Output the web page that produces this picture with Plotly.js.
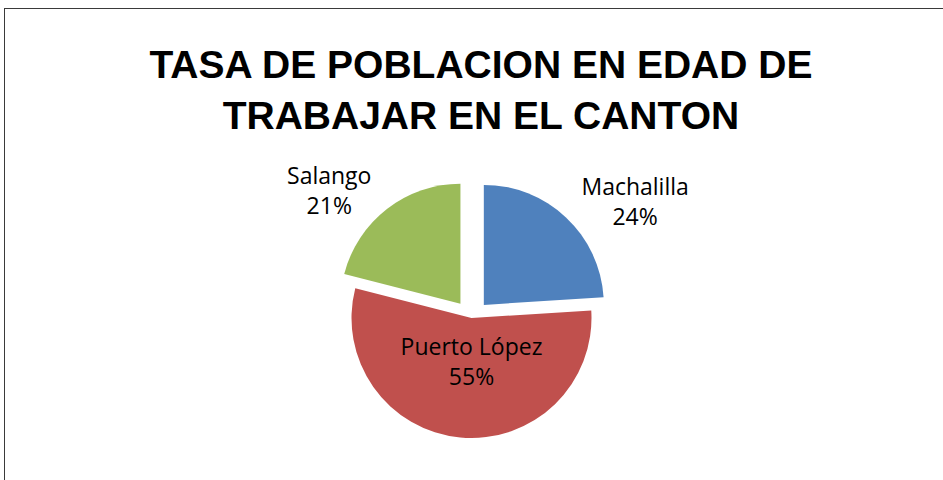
<!DOCTYPE html>
<html>
<head>
<meta charset="utf-8">
<script src="https://cdn.plot.ly/plotly-3.0.1.min.js"></script>
<style>
  html, body { margin: 0; padding: 0; background: #fff; overflow: hidden; }
  #frame { position: absolute; left: 4px; top: 8px; width: 980px; height: 520px; border: 1.5px solid #3a3a3a; box-sizing: border-box; }
  #chart { position: absolute; left: 0; top: 0; width: 943px; height: 480px; }
</style>
</head>
<body>
<div id="frame"></div>
<div id="chart"></div>
<script>
const titleLines = ["TASA DE POBLACION EN EDAD DE", "TRABAJAR EN EL CANTON"];
const categories = ["Machalilla", "Puerto López", "Salango"];
const shares = [24, 55, 21];
const colors = ["#4F81BD", "#C0504D", "#9BBB59"];

const labelFont = { family: "Open Sans, Noto Sans, sans-serif", size: 23, color: "#000" };

const trace = {
  type: "pie",
  labels: categories,
  values: shares,
  sort: false,
  direction: "clockwise",
  rotation: 0,
  marker: { colors: colors, line: { color: "#ffffff", width: 0 } },
  pull: [0.15, 0.0, 0.15],
  textinfo: "label+percent",
  texttemplate: "%{label}<br>%{percent:.0%}",
  textposition: ["outside", "inside", "outside"],
  insidetextorientation: "horizontal",
  textfont: labelFont,
  outsidetextfont: labelFont,
  insidetextfont: labelFont,
  domain: { x: [0.1, 0.9], y: [0.05, 0.625] },
  hoverinfo: "label+percent",
  showlegend: false
};

const layout = {
  width: 943,
  height: 480,
  margin: { l: 0, r: 0, t: 0, b: 0 },
  paper_bgcolor: "rgba(0,0,0,0)",
  plot_bgcolor: "rgba(0,0,0,0)",
  title: {
    text: "<b>" + titleLines.join("<br>") + "</b>",
    x: 0.51,
    xanchor: "center",
    y: 0.837,
    yref: "container",
    yanchor: "middle",
    font: { family: "Liberation Sans, Arial, sans-serif", size: 39, color: "#000" }
  },
  showlegend: false
};

Plotly.newPlot("chart", [trace], layout, { displayModeBar: false, staticPlot: true });
</script>
</body>
</html>
